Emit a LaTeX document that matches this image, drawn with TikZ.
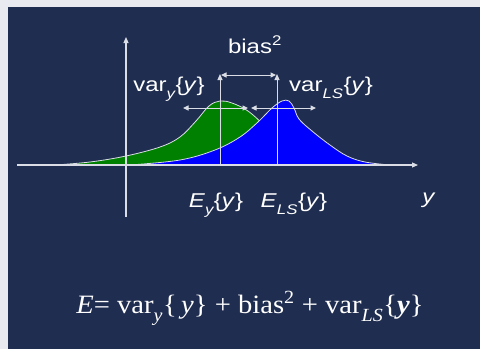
\documentclass[tikz,border=0pt]{standalone}
\usepackage{fontspec}
\setmainfont{Liberation Serif}
\newfontfamily\lblfont[FakeStretch=1.2]{Liberation Sans}
\newfontfamily\eqnfont[FakeStretch=1.08]{Liberation Serif}
\usetikzlibrary{arrows.meta}
\definecolor{slidebg}{RGB}{31,45,80}
\definecolor{framegray}{RGB}{233,234,239}
\definecolor{lineclr}{RGB}{218,221,230}
\definecolor{densgreen}{RGB}{0,128,0}
\definecolor{densblue}{RGB}{0,0,255}
\newcommand\lowsub[1]{\raisebox{-0.4ex}{\textsubscript{#1}}}

\begin{document}
\begin{tikzpicture}[x=1pt,y=-1pt,
  axis/.style={draw=lineclr, line width=1.1pt, -{Triangle[length=6pt,width=5pt]}},
  vline/.style={draw=lineclr, line width=1pt, -{Triangle[length=6pt,width=5pt]}},
  arr/.style={draw=lineclr, line width=1pt, {Triangle[length=5.5pt,width=5pt]}-{Triangle[length=5.5pt,width=5pt]}},
  dens/.style={draw=lineclr, line width=0.8pt},
  lbl/.style={text=white, font=\lblfont\fontsize{20}{24}\selectfont, inner sep=0pt, anchor=base},
  eqn/.style={text=white, font=\eqnfont\fontsize{26.5}{30}\selectfont, inner sep=0pt, anchor=base}
]
  % frame and slide
  \fill[framegray] (0,0) rectangle (480,349);
  \fill[slidebg] (8,7) rectangle (480,349);

  % the two densities
  \path[dens, fill=densgreen] plot[smooth, tension=0.6] coordinates {(55,165) (90,162) (126,156) (160,147) (180,137) (196,121) (209,106) (220,101) (232,103) (248,111) (265,126) (285,145) (305,158) (330,165)} -- cycle;
  \path[dens, fill=densblue] plot[smooth, tension=0.6] coordinates {(130,165) (180,160) (215,150) (240,137) (258,122) (272,108) (282,101) (289,101) (294,108) (299,119) (312,131) (330,145) (347,156) (365,162) (390,165)} -- cycle;

  % axes
  \coordinate (xs) at (17,165);
  \coordinate (xe) at (418,165);
  \coordinate (yb) at (126,217);
  \coordinate (yt) at (126,37);
  \draw[axis] (xs) -- (xe);
  \draw[axis] (yb) -- (yt);

  % means
  \coordinate (ey0) at (220,165);
  \coordinate (ey1) at (220,74);
  \coordinate (els0) at (277,165);
  \coordinate (els1) at (277,74);
  \draw[vline] (ey0) -- (ey1);
  \draw[vline] (els0) -- (els1);

  % bias and variance spans
  \coordinate (bl) at (221,75);
  \coordinate (br) at (276,75);
  \draw[arr] (bl) -- (br);
  \coordinate (vyl) at (183,108);
  \coordinate (vyr) at (248,108);
  \coordinate (vll) at (251,108);
  \coordinate (vlr) at (316,108);
  \draw[arr] (vyl) -- (vyr);
  \draw[arr] (vll) -- (vlr);

  % labels
  \node[lbl] (bias) at (255,53) {bias\textsuperscript{2}};
  \node[lbl] (vary) at (169,91) {var\lowsub{\itshape y}\{\textit{y}\}};
  \node[lbl] (varls) at (331,91) {var\lowsub{\itshape LS}\{\textit{y}\}};
  \node[lbl] (ey) at (216,207) {\textit{E}\lowsub{\itshape y}\{\textit{y}\}};
  \node[lbl] (els) at (294,207) {\textit{E}\lowsub{\itshape LS}\{\textit{y}\}};
  \node[lbl] (ylab) at (429,203) {\textit{y}};

  % decomposition
  \node[eqn] (err) at (250,313) {\textit{E}= var\lowsub{\itshape y}\{\,\textit{y}\} + bias\textsuperscript{2} + var\lowsub{\itshape LS}\{\textbf{\textit{y}}\}};
\end{tikzpicture}
\end{document}
